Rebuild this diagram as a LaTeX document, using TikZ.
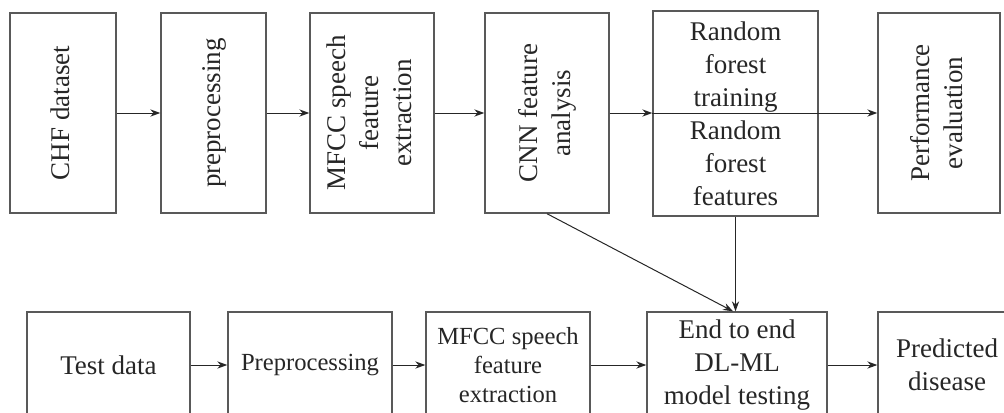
\documentclass[tikz,border=0pt]{standalone}
\usepackage{fontspec}
\setmainfont{Liberation Serif}
\usepackage{graphicx}
\usetikzlibrary{arrows.meta}
\newcommand{\vtext}[1]{\rotatebox{90}{\begin{tabular}{@{}c@{}}#1\end{tabular}}}
\tikzset{
  box/.style={draw=black!65, line width=0.7pt, rectangle, inner sep=0pt, align=center,
    font=\fontsize{13.5}{16.5}\selectfont, text=black!85},
  smallbox/.style={box, font=\fontsize{12.3}{14.5}\selectfont},
  arr/.style={draw=black!85, line width=0.5pt, -{Stealth[length=5pt,width=3.6pt]}},
  ln/.style={draw=black!85, line width=0.5pt}
}
\begin{document}
\begin{tikzpicture}[x=0.5pt,y=-0.5pt]
\useasboundingbox (0,0) rectangle (1004,412);
\clip (0,0) rectangle (1004,412);
% top row
\node[box, minimum width=53pt, minimum height=100pt] (a1) at (63,113) {\vtext{CHF dataset}};
\node[box, minimum width=52.5pt, minimum height=100pt] (a2) at (213.5,113) {\vtext{preprocessing}};
\node[box, minimum width=62pt, minimum height=100pt] (a3) at (372,113) {\vtext{MFCC speech\\feature\\extraction}};
\node[box, minimum width=62pt, minimum height=100pt] (a4) at (547,113) {\vtext{CNN feature\\analysis}};
\node[box, minimum width=82.5pt, minimum height=102.5pt] (a5) at (735.5,113.5) {Random\\forest\\training\\Random\\forest\\features};
\node[box, minimum width=61pt, minimum height=100pt] (a6) at (939,113) {\vtext{Performance\\evaluation}};
% bottom row
\node[box, minimum width=81.5pt, minimum height=53pt] (b1) at (108.5,365) {Test data};
\node[smallbox, minimum width=82pt, minimum height=53pt] (b2) at (310,365) {Preprocessing};
\node[smallbox, minimum width=82pt, minimum height=53pt] (b3) at (508,365) {MFCC speech\\feature\\extraction};
\node[box, minimum width=90pt, minimum height=53pt] (b4) at (737,365) {End to end\\DL-ML\\model testing};
\node[box, minimum width=69pt, minimum height=53pt] (b5) at (947,365) {Predicted\\disease};
% connectors top
\draw[arr] (a1.east) -- (a2.west);
\draw[arr] (a2.east) -- (a3.west);
\draw[arr] (a3.east) -- (a4.west);
\draw[arr] (a4.east) -- (a5.west |- a4.east);
\draw[arr] (a5.west |- a4.east) -- (a6.west);
% connectors bottom
\draw[arr] (b1.east) -- (b2.west);
\draw[arr] (b2.east) -- (b3.west);
\draw[arr] (b3.east) -- (b4.west);
\draw[arr] (b4.east) -- (b5.west);
% cross connectors
\coordinate (t1) at ([xshift=-2pt]b4.north);
\draw[arr] (a4.south) -- (t1);
\draw[arr] (a5.south) -- (a5.south |- b4.north);
\end{tikzpicture}
\end{document}
